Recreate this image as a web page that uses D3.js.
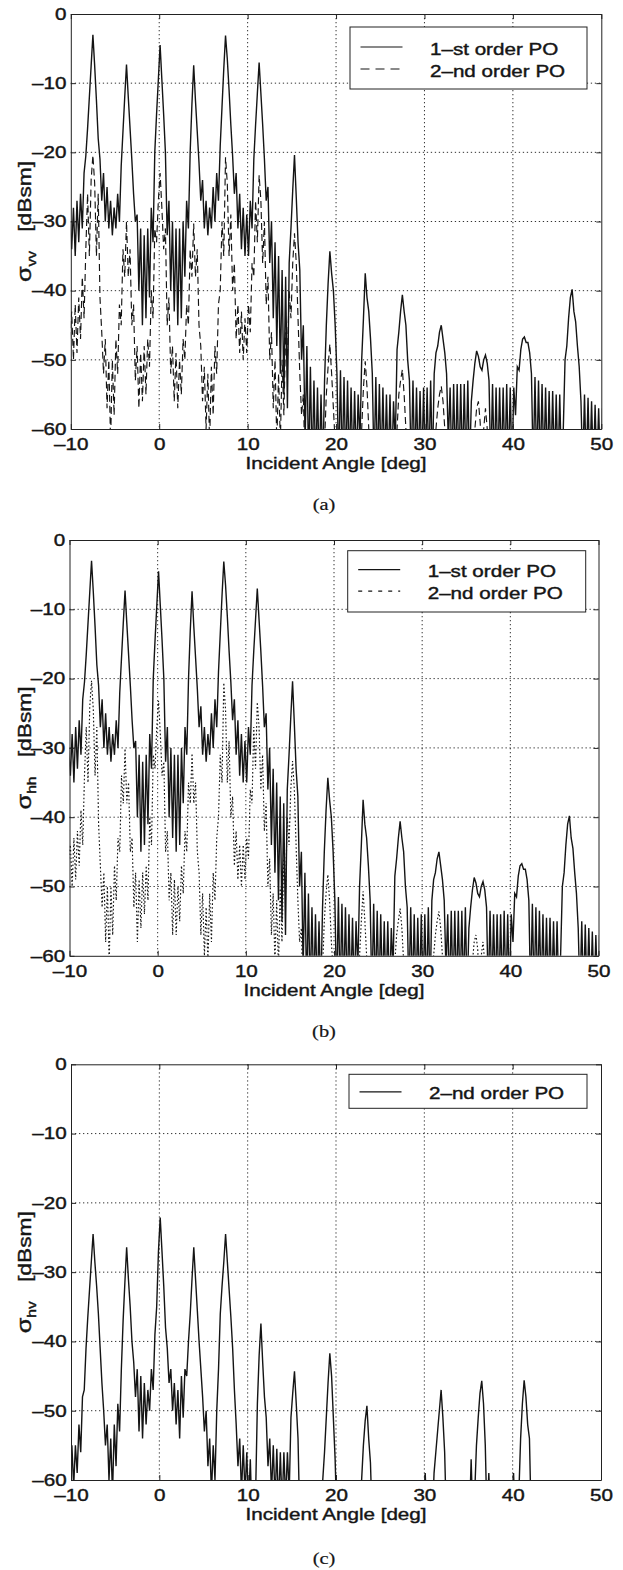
<!DOCTYPE html>
<html>
<head>
<meta charset="utf-8">
<title>PO bistatic RCS versus incident angle</title>
<script src="https://cdn.jsdelivr.net/npm/d3@7"></script>
<style>
  html, body { margin: 0; padding: 0; background: #fff; }
  svg { display: block; }
  text { font-family: "Liberation Sans", Arial, Helvetica, sans-serif; fill: #151515; stroke: #151515; stroke-width: 0.4px; }
</style>
</head>
<body>
<svg id="fig" width="623" height="1570"></svg>
<script>
// ---- sampled curves: RCS in dBsm on a 0.2 deg grid starting at -10.1 deg ----
const angleStart = -10.1;
const angleStep = 0.2;

// sigma_vv, first-order PO
const sigmaVV1 = [
  -30, -34, -28, -35, -27, -33, -26, -31, -23, -20.5,          // -10.1
  -16.5, -12, -7.5, -3, -7.5, -12.5, -18, -21, -27, -23,       // -8.1
  -30, -25, -31, -27, -32, -28, -31, -26, -30, -22,            // -6.1
  -17, -12, -7.3, -12, -16.5, -21, -26, -30, -29, -40,         // -4.1
  -31, -45, -32, -44, -31, -41, -28, -33, -20, -14.5,          // -2.1
  -9.5, -4.5, -9.5, -14.5, -20, -32, -27, -40, -30, -43,       // -0.1
  -31, -45, -31, -44, -30, -38, -27, -31, -20, -13,            // 1.9
  -7.4, -12.5, -17, -21.5, -27, -24, -31, -27, -32, -28,       // 3.9
  -31, -25, -30, -23, -27, -19, -13.5, -8, -3.1, -6.5,         // 5.9
  -11, -16, -20.5, -26, -23, -31, -26, -34, -28, -35,          // 7.9
  -29, -35, -27, -31, -21, -16, -11.5, -7, -11.5, -16,         // 9.9
  -21, -27, -25, -36, -30, -44, -33, -48, -35, -52,            // 11.9
  -37, -55, -38, -57, -36, -31, -25.5, -20.4, -26.5, -33,      // 13.9
  -37, -50, -45, -62, -48, -66, -51, -66, -53, -66,            // 15.9
  -54, -66, -55, -66, -53, -45, -39, -34.3, -37.5, -40,        // 17.9
  -45, -52, -66, -51.5, -66, -52.5, -66, -53, -66, -54,        // 19.9
  -66, -54.5, -66, -55, -62, -50, -44, -37.5, -41, -43,        // 21.9
  -47, -52, -66, -52.5, -66, -53.5, -66, -54, -66, -55,        // 23.9
  -66, -55, -66, -56, -62, -48.5, -46, -43, -40.6, -43,        // 25.9
  -45, -50, -53, -66, -53, -66, -54, -66, -54.5, -66,          // 27.9
  -54, -66, -54, -66, -53, -66, -52, -49, -48, -46,            // 29.9
  -45, -47, -49, -52, -62, -54, -66, -53.5, -66, -53.5,        // 31.9
  -66, -53.5, -66, -53.5, -66, -53, -66, -56, -53, -50.5,      // 33.9
  -48.7, -49.5, -51, -51.5, -50, -49.3, -50.5, -53, -66, -53.5,// 35.9
  -66, -54, -66, -54, -66, -54, -66, -53.5, -66, -54,          // 37.9
  -66, -54, -58, -51, -51.5, -48.5, -47, -46.7, -47.5, -47.5,  // 39.9
  -49, -52, -66, -52.5, -66, -53, -66, -53.5, -66, -54,        // 41.9
  -66, -54.5, -66, -54.5, -66, -55, -66, -55, -66, -60,        // 43.9
  -50, -48, -44, -41, -39.8, -43, -44.5, -48, -51, -56,        // 45.9
  -66, -55, -66, -55.5, -66, -56, -66, -56.5, -66, -57,        // 47.9
  -66, -57                                                     // 49.9
];

// sigma_vv, second-order PO
const sigmaVV2 = [
  -47, -43, -50, -42, -49, -41, -47, -38, -44, -34,
  -26, -35, -24, -20.4, -24.5, -35, -26, -41, -46, -52,
  -47, -57, -50, -62, -50, -58, -47, -52, -42, -45,
  -34, -38, -30, -38, -34, -45, -42, -53, -48, -57,
  -49, -56, -48, -55, -47, -51, -40, -44, -31, -33,
  -27, -23, -28, -34, -31, -45, -41, -52, -48, -56,
  -49, -57, -50, -55, -47, -50, -42, -45, -34, -38,
  -30.3, -38, -34, -45, -48, -56, -51, -60, -52, -62,
  -51, -58, -48, -52, -42, -40, -30, -35, -20.7, -24.5,
  -35, -29, -40, -36, -47, -42, -49, -43, -50, -44,
  -49, -42, -46, -36, -38, -27, -33, -23.3, -27, -36,
  -30, -42, -38, -50, -46, -57, -50, -62, -52, -62,
  -50, -58, -46, -50, -40, -44, -36, -31.7, -36, -44,
  -52, -58, -55, -66, -66, -66, -66, -66, -66, -66,
  -66, -66, -66, -66, -62, -55, -51, -47.7, -52, -57,
  -62, -66, -66, -66, -66, -66, -66, -66, -66, -66,
  -66, -66, -66, -66, -66, -60, -54, -50.2, -54, -60,
  -66, -66, -66, -66, -66, -66, -66, -66, -66, -66,
  -66, -66, -66, -66, -66, -60, -55, -53, -51.4, -55,
  -60, -66, -66, -66, -66, -66, -66, -66, -66, -66,
  -66, -66, -66, -66, -66, -66, -66, -60, -57, -55,
  -53.8, -56, -60, -66, -66, -66, -66, -66, -66, -66,
  -66, -66, -66, -66, -66, -66, -66, -66, -66, -60,
  -57, -56, -59, -66, -60, -57, -60, -66, -66, -66,
  -66, -66, -66, -66, -66, -66, -66, -66, -66, -66,
  -66, -66, -66, -66, -66, -66, -66, -66, -66, -66,
  -66, -66, -66, -66, -66, -66, -66, -66, -66, -66,
  -66, -66, -66, -66, -66, -66, -66, -66, -66, -66,
  -66, -66, -66, -66, -66, -66, -66, -66, -66, -66,
  -66, -66, -66, -66, -66, -66, -66, -66, -66, -66,
  -66, -66
];

// sigma_hh, first-order PO (the first-order PO term does not depend on polarisation)
const sigmaHH1 = sigmaVV1;

// sigma_hh, second-order PO
const sigmaHH2 = [
  -46, -44, -50, -43, -49, -42, -47, -39, -44, -34,
  -27, -35, -24, -20.3, -24.5, -34, -27, -41, -47, -53,
  -48, -58, -50, -61, -50, -57, -47, -52, -43, -45,
  -34, -38, -30.1, -38, -35, -45, -43, -53, -48, -58,
  -49, -56, -48, -54, -47, -52, -40, -44, -31, -33,
  -27, -23.2, -28, -34, -32, -45, -42, -52, -48, -57,
  -49, -57, -50, -55, -47, -51, -42, -45, -35, -38,
  -30.8, -38, -35, -45, -48, -57, -51, -60, -53, -61,
  -51, -58, -48, -52, -43, -40, -31, -35, -20.6, -24.5,
  -35, -29, -40, -37, -47, -42, -49, -44, -50, -44,
  -49, -43, -46, -36, -38, -27, -33, -23.4, -27, -36,
  -31, -42, -38, -50, -46, -57, -51, -61, -52, -62,
  -50, -58, -46, -51, -40, -44, -36, -31.9, -36, -44,
  -52, -58, -56, -66, -66, -66, -66, -66, -66, -66,
  -66, -66, -66, -66, -62, -55, -51, -48.3, -52, -58,
  -62, -66, -66, -66, -66, -66, -66, -66, -66, -66,
  -66, -66, -66, -66, -66, -60, -55, -50.7, -55, -60,
  -66, -66, -66, -66, -66, -66, -66, -66, -66, -66,
  -66, -66, -66, -66, -66, -61, -57, -55, -53.2, -56,
  -61, -66, -66, -66, -66, -66, -66, -66, -66, -66,
  -66, -66, -66, -66, -66, -66, -66, -60, -57, -55,
  -53.6, -56, -60, -66, -66, -66, -66, -66, -66, -66,
  -66, -66, -66, -66, -66, -66, -66, -66, -66, -61,
  -58, -57, -59, -66, -60, -58, -61, -66, -66, -66,
  -66, -66, -66, -66, -66, -66, -66, -66, -66, -66,
  -66, -66, -66, -66, -66, -66, -66, -66, -66, -66,
  -66, -66, -66, -66, -66, -66, -66, -66, -66, -66,
  -66, -66, -66, -66, -66, -66, -66, -66, -66, -66,
  -66, -66, -66, -66, -66, -66, -66, -66, -66, -66,
  -66, -66, -66, -66, -66, -66, -66, -66, -66, -66,
  -66, -66
];

// sigma_hv, second-order PO (no first-order cross-polar term)
const sigmaHV2 = [
  -58, -55, -61, -55, -59, -52, -56, -48, -47, -41,
  -36.5, -32.5, -28.5, -24.5, -28.5, -32, -36, -41, -46, -50,
  -55, -52, -60, -54, -62, -52, -58, -49, -53, -44,
  -37, -31.5, -26.4, -31, -35, -40, -43, -48, -44, -53,
  -45, -54, -46, -52, -47, -50, -44, -47, -39, -35,
  -27, -22.1, -27, -32, -38, -41, -46, -44, -50, -46,
  -52, -47, -54, -45, -51, -44, -45, -40, -36, -31,
  -26.4, -31, -35.5, -40, -44, -48, -53, -50, -58, -54,
  -62, -55, -60, -50, -44, -36, -32, -28.5, -24.5, -28.5,
  -32.5, -36.5, -41, -47, -52, -58, -54, -62, -55, -62,
  -56, -64, -57, -66, -66, -62, -49, -42, -37.4, -43,
  -48, -51, -58, -54, -62, -55, -63, -55.5, -64, -56,
  -64, -56, -63, -56, -62, -51, -47.5, -44.3, -49, -54,
  -66, -66, -66, -66, -66, -66, -66, -66, -66, -66,
  -66, -66, -66, -60, -56, -51, -46, -41.7, -45, -51,
  -57, -66, -66, -66, -66, -66, -66, -66, -66, -66,
  -66, -66, -66, -66, -66, -60, -55, -51.5, -49.3, -54,
  -57.5, -66, -66, -66, -66, -66, -66, -66, -66, -66,
  -66, -66, -66, -66, -66, -66, -66, -66, -66, -66,
  -66, -66, -66, -66, -66, -66, -66, -66, -66, -66,
  -66, -59, -66, -66, -66, -66, -59, -56, -53, -50,
  -47, -51, -56, -66, -66, -66, -66, -66, -66, -66,
  -66, -66, -66, -66, -66, -66, -66, -57, -66, -62,
  -55, -51, -47.5, -45.7, -49, -55, -66, -59, -66, -66,
  -66, -66, -66, -66, -66, -66, -66, -66, -66, -66,
  -66, -59, -66, -66, -62, -54, -49, -45.6, -48, -52,
  -54, -66, -66, -66, -66, -66, -66, -66, -66, -66,
  -66, -66, -66, -66, -66, -66, -66, -66, -66, -66,
  -66, -66, -66, -66, -66, -66, -66, -66, -66, -66,
  -66, -66, -66, -66, -66, -66, -66, -66, -66, -66,
  -66, -66
];

const xTicks = [-10, 0, 10, 20, 30, 40, 50];
const yTicks = [0, -10, -20, -30, -40, -50, -60];
const seriesNames = ["1\u2013st order PO", "2\u2013nd order PO"];
const polarisations = ["vv", "hh", "hv"];
const panelTags = ["(a)", "(b)", "(c)"];
const xTitle = "Incident Angle [deg]";
const yUnit = "[dBsm]";

const incidentAngle = sigmaVV1.map((_, i) => +(angleStart + i * angleStep).toFixed(1));

// ---- layout ----
const STRETCH = 1.25;          // wide lettering of the plotted labels
const TICK_FONT = 16.5;
const DASHED = "7,4";
const DOTTED = "1.6,2.2";
const DOTTED_KEY = "4,6";
const SOLID_W = 1.4;

const panels = [
  { frame: { l: 70.8, r: 601.3, t: 14, b: 429 },
    curves: [ { values: sigmaVV1, dash: null, w: SOLID_W }, { values: sigmaVV2, dash: DASHED, w: 1.15 } ],
    legend: { x: 350, y: 27, w: 237, h: 62,
      rows: [ { name: seriesNames[0], dash: null, dy: 27.5 }, { name: seriesNames[1], dash: "9,6", dy: 49.5 } ] },
    pol: polarisations[0], tag: panelTags[0], tagY: 510 },
  { frame: { l: 69.5, r: 598.5, t: 540, b: 955.8 },
    curves: [ { values: sigmaHH1, dash: null, w: SOLID_W }, { values: sigmaHH2, dash: DOTTED, w: 1.15 } ],
    legend: { x: 347.7, y: 550.7, w: 238, h: 61.3,
      rows: [ { name: seriesNames[0], dash: null, dy: 26.5 }, { name: seriesNames[1], dash: DOTTED_KEY, dy: 48 } ] },
    pol: polarisations[1], tag: panelTags[1], tagY: 1037 },
  { frame: { l: 71, r: 601, t: 1064.3, b: 1480 },
    curves: [ { values: sigmaHV2, dash: null, w: SOLID_W } ],
    legend: { x: 349, y: 1074.3, w: 238, h: 34,
      rows: [ { name: seriesNames[1], dash: null, dy: 25 } ] },
    pol: polarisations[2], tag: panelTags[2], tagY: 1564 }
];

const svg = d3.select("#fig");
const fmt = d => (d < 0 ? "\u2013" + Math.abs(d) : String(d));

function wideText(sel, x, y, str, size, anchor) {
  return sel.append("text")
    .attr("transform", `translate(${x},${y}) scale(${STRETCH},1)`)
    .attr("text-anchor", anchor)
    .style("font-size", size + "px")
    .text(str);
}

panels.forEach((p, k) => {
  const f = p.frame;
  const g = svg.append("g");
  const x = d3.scaleLinear().domain([-10, 50]).range([f.l, f.r]);
  const y = d3.scaleLinear().domain([-60, 0]).range([f.b, f.t]);

  // dotted grid
  g.append("g").selectAll("line").data(xTicks.slice(1, -1)).join("line")
    .attr("x1", d => x(d)).attr("x2", d => x(d)).attr("y1", f.t).attr("y2", f.b)
    .attr("stroke", "#333").attr("stroke-width", 1).attr("stroke-dasharray", "1.3,2.7");
  g.append("g").selectAll("line").data(yTicks.slice(1, -1)).join("line")
    .attr("x1", f.l).attr("x2", f.r).attr("y1", d => y(d)).attr("y2", d => y(d))
    .attr("stroke", "#333").attr("stroke-width", 1).attr("stroke-dasharray", "1.3,2.7");

  // curves, clipped to the axes box
  const clipId = "clip" + k;
  svg.append("defs").append("clipPath").attr("id", clipId)
    .append("rect").attr("x", f.l).attr("y", f.t).attr("width", f.r - f.l).attr("height", f.b - f.t);
  const line = d3.line().x((d, i) => x(incidentAngle[i])).y(d => y(d));
  const plot = g.append("g").attr("clip-path", `url(#${clipId})`);
  p.curves.slice().reverse().forEach(c => {
    plot.append("path").datum(c.values)
      .attr("d", line)
      .attr("fill", "none")
      .attr("stroke", "#141414")
      .attr("stroke-width", c.w)
      .attr("stroke-linejoin", "miter")
      .attr("stroke-dasharray", c.dash);
  });

  // axes with inward ticks on all four sides
  const styleAxis = sel => {
    sel.selectAll(".domain").attr("stroke", "#222");
    sel.selectAll(".tick line").attr("stroke", "#222");
  };
  const bottom = g.append("g").attr("transform", `translate(0,${f.b})`)
    .call(d3.axisBottom(x).tickValues(xTicks).tickSizeInner(-5).tickSizeOuter(0).tickPadding(9.5).tickFormat(fmt))
    .call(styleAxis);
  bottom.selectAll("text").style("font-size", TICK_FONT + "px")
    .attr("transform", `scale(${STRETCH},1)`).attr("fill", "#151515");
  const left = g.append("g").attr("transform", `translate(${f.l},0)`)
    .call(d3.axisLeft(y).tickValues(yTicks).tickSizeInner(-5).tickSizeOuter(0).tickFormat(fmt))
    .call(styleAxis);
  left.selectAll("text").style("font-size", TICK_FONT + "px")
    .attr("x", -4.3 / STRETCH).attr("transform", `scale(${STRETCH},1)`).attr("fill", "#151515");
  g.append("g").attr("transform", `translate(0,${f.t})`)
    .call(d3.axisTop(x).tickValues(xTicks).tickSizeInner(-5).tickSizeOuter(0).tickFormat(""))
    .call(styleAxis);
  g.append("g").attr("transform", `translate(${f.r},0)`)
    .call(d3.axisRight(y).tickValues(yTicks).tickSizeInner(-5).tickSizeOuter(0).tickFormat(""))
    .call(styleAxis);

  // axis titles
  wideText(g, (f.l + f.r) / 2, f.b + 40, xTitle, 16.5, "middle");
  const cy = (f.t + f.b) / 2;
  const yl = g.append("text")
    .attr("transform", `translate(31,${cy}) rotate(-90) scale(${STRETCH * 0.96},1)`)
    .attr("text-anchor", "middle");
  yl.append("tspan").style("font-size", "21px").text("\u03c3");
  yl.append("tspan").style("font-size", "13px").attr("dy", 5).text(p.pol);
  yl.append("tspan").style("font-size", "19px").attr("dy", -5).attr("dx", 16).text(yUnit);

  // legend
  const L = p.legend;
  const lg = g.append("g");
  lg.append("rect").attr("x", L.x).attr("y", L.y).attr("width", L.w).attr("height", L.h)
    .attr("fill", "#fff").attr("stroke", "#222").attr("stroke-width", 1);
  L.rows.forEach(r => {
    lg.append("line")
      .attr("x1", L.x + 10.5).attr("x2", L.x + 52.5)
      .attr("y1", L.y + r.dy - 7.5).attr("y2", L.y + r.dy - 7.5)
      .attr("stroke", "#141414").attr("stroke-width", 1.2)
      .attr("stroke-dasharray", r.dash);
    wideText(lg, L.x + 80, L.y + r.dy, r.name, 16.5, "start");
  });

  // panel tag
  g.append("text")
    .attr("transform", `translate(324,${p.tagY}) scale(1.2,1)`)
    .attr("text-anchor", "middle")
    .style("font-family", "'Liberation Serif', 'Times New Roman', serif")
    .style("font-size", "17px")
    .style("stroke-width", "0.2px")
    .text(p.tag);
});
</script>
</body>
</html>
